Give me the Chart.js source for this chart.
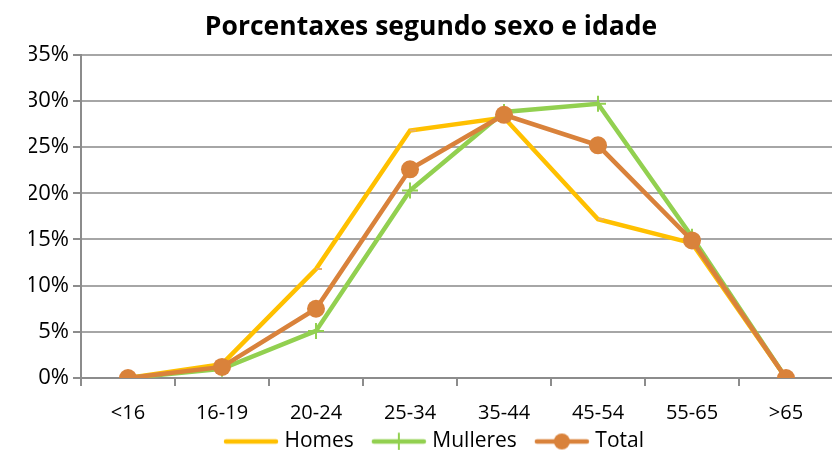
<!DOCTYPE html>
<html>
<head>
<meta charset="utf-8">
<script src="https://cdn.jsdelivr.net/npm/chart.js@4.4.0/dist/chart.umd.min.js"></script>
<style>
  html, body { margin: 0; padding: 0; background: #fff; overflow: hidden; }
  #wrap { width: 862px; height: 450px; }
</style>
</head>
<body>
<div id="wrap"><canvas id="chart" width="862" height="450"></canvas></div>
<script>
const ageGroups = ['<16', '16-19', '20-24', '25-34', '35-44', '45-54', '55-65', '>65'];
const homes = [0, 1.5, 11.8, 26.8, 28.2, 17.2, 14.6, 0];
const mulleres = [0, 1.0, 5.1, 20.3, 28.8, 29.7, 15.3, 0];
const total = [0, 1.2, 7.5, 22.6, 28.5, 25.2, 14.9, 0];
const yTicks = [0, 5, 10, 15, 20, 25, 30, 35];

const FONT = '"Open Sans", "Liberation Sans", sans-serif';
const YELLOW = '#FFC000';
const GREEN = '#92D050';
const ORANGE = '#D9823B';
const GRID = '#A6A6A6';
const AXIS = '#8C8C8C';

// legend sample: line with marker, slightly wider than its box so the
// line sits close to the text like in the original
function legendIcon(color, marker) {
    const c = document.createElement('canvas');
    c.width = 66;
    c.height = 20;
    const g = c.getContext('2d');
    g.strokeStyle = color;
    g.lineWidth = 4.5;
    g.lineCap = 'round';
    g.beginPath();
    g.moveTo(13, 10);
    g.lineTo(63, 10);
    g.stroke();
    if (marker === 'cross') {
        g.lineWidth = 2;
        g.beginPath();
        g.moveTo(38, 2);
        g.lineTo(38, 18);
        g.stroke();
    } else if (marker === 'circle') {
        g.fillStyle = color;
        g.beginPath();
        g.arc(38, 10, 8, 0, Math.PI * 2);
        g.fill();
    }
    return c;
}

const icons = [
    legendIcon(YELLOW, 'none'),
    legendIcon(GREEN, 'cross'),
    legendIcon(ORANGE, 'circle')
];

new Chart(document.getElementById('chart'), {
    type: 'line',
    data: {
        labels: ageGroups,
        datasets: [{
            label: 'Homes',
            data: homes,
            borderColor: YELLOW,
            backgroundColor: YELLOW,
            borderWidth: 4.5,
            pointStyle: 'dash',
            pointRadius: 6,
            pointBorderColor: '#E8B070',
            pointBorderWidth: 2,
            tension: 0,
            order: 2
        }, {
            label: 'Mulleres',
            data: mulleres,
            borderColor: GREEN,
            backgroundColor: GREEN,
            borderWidth: 4.5,
            pointStyle: 'cross',
            pointRadius: 8,
            pointBorderColor: GREEN,
            pointBorderWidth: 2,
            tension: 0,
            order: 1
        }, {
            label: 'Total',
            data: total,
            borderColor: ORANGE,
            backgroundColor: ORANGE,
            borderWidth: 4.5,
            pointStyle: 'circle',
            pointRadius: 9,
            pointBorderWidth: 0,
            tension: 0,
            order: 0
        }]
    },
    options: {
        responsive: false,
        animation: false,
        layout: { padding: { left: 29, right: 29, top: 0, bottom: -12 } },
        plugins: {
            title: {
                display: true,
                text: 'Porcentaxes segundo sexo e idade',
                color: '#000',
                font: { family: FONT, size: 26.5, weight: 'bold' },
                padding: { top: 12, bottom: 11 }
            },
            legend: {
                position: 'bottom',
                labels: {
                    color: '#000',
                    font: { family: FONT, size: 21 },
                    usePointStyle: true,
                    pointStyleWidth: 56,
                    padding: 12,
                    sort: (a, b) => a.datasetIndex - b.datasetIndex,
                    generateLabels(chart) {
                        const items = Chart.defaults.plugins.legend.labels.generateLabels(chart);
                        items.forEach(it => { it.pointStyle = icons[it.datasetIndex]; });
                        return items;
                    }
                }
            },
            tooltip: { enabled: false }
        },
        scales: {
            x: {
                offset: true,
                grid: {
                    offset: true,
                    drawOnChartArea: false,
                    drawTicks: true,
                    tickLength: 8,
                    color: AXIS,
                    lineWidth: 2
                },
                border: { color: AXIS, width: 2 },
                ticks: {
                    color: '#000',
                    font: { family: FONT, size: 20 },
                    padding: 15,
                    maxRotation: 0,
                    autoSkip: false
                },
                afterFit(scale) { scale.height = 41; }
            },
            y: {
                min: 0,
                max: 35,
                afterBuildTicks(scale) { scale.ticks = yTicks.map(v => ({ value: v })); },
                grid: {
                    color: GRID,
                    lineWidth: 2,
                    tickLength: 8,
                    tickColor: AXIS
                },
                border: { color: AXIS, width: 2 },
                ticks: {
                    color: '#000',
                    font: { family: FONT, size: 22 },
                    padding: 4,
                    callback: v => v + '%'
                },
                afterFit(scale) { scale.width = 52; }
            }
        }
    }
});
</script>
</body>
</html>
